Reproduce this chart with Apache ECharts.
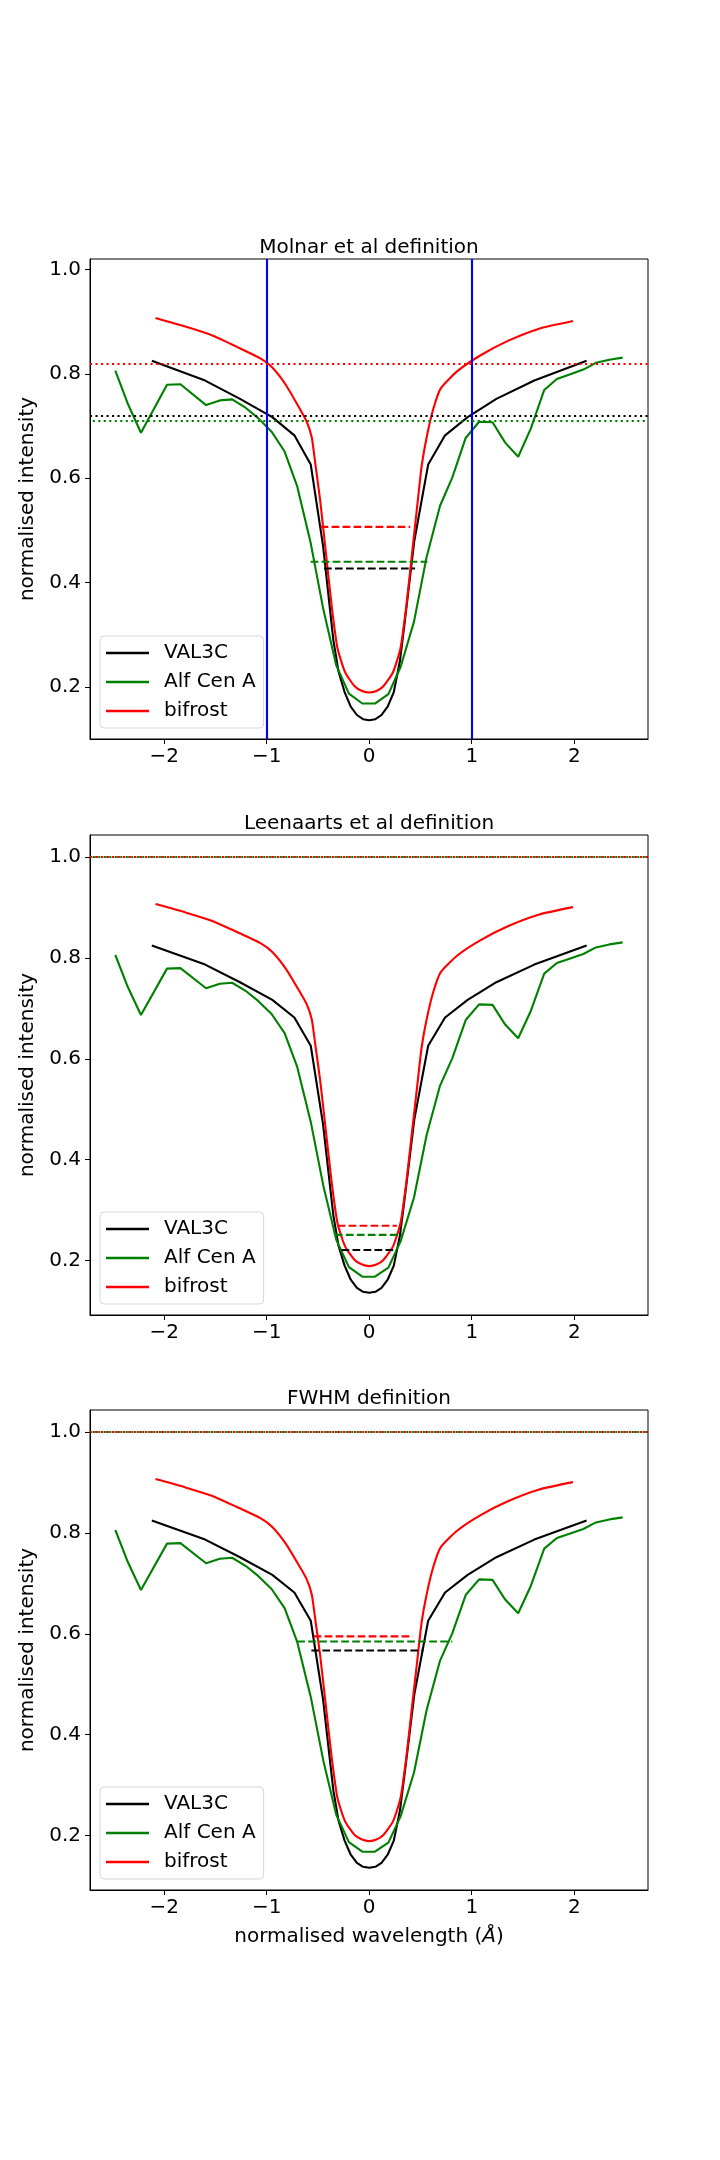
<!DOCTYPE html>
<html>
<head>
<meta charset="utf-8">
<script src="https://cdn.jsdelivr.net/npm/echarts@6/dist/echarts.min.js"></script>
<style>
html, body { margin: 0; padding: 0; background: #fff; }
#chart { width: 720px; height: 2160px; }
</style>
</head>
<body>
<div id="chart"></div>
<script>
// line profiles, normalised wavelength (A) vs normalised intensity
const val3cX = [-2.12,-1.60,-1.26,-0.945,-0.73,-0.57,-0.45,-0.40,-0.35,-0.30,-0.24,-0.18,-0.12,-0.06,0,0.06,0.12,0.18,0.24,0.30,0.35,0.44,0.575,0.74,0.96,1.24,1.61,2.12];
const val3cY = [0.825,0.787,0.752,0.717,0.682,0.626,0.47,0.38,0.29,0.23,0.19,0.162,0.146,0.138,0.136,0.138,0.146,0.162,0.19,0.25,0.33,0.48,0.626,0.682,0.717,0.752,0.787,0.825];

const alfCenX = [-2.476,-2.353,-2.226,-1.972,-1.841,-1.591,-1.457,-1.337,-1.206,-1.083,-0.952,-0.825,-0.702,-0.571,-0.448,-0.321,-0.198,-0.067,0.056,0.187,0.306,0.437,0.560,0.691,0.810,0.941,1.072,1.203,1.326,1.453,1.576,1.707,1.830,1.961,2.088,2.211,2.342,2.472];
const alfCenY = [0.806,0.742,0.687,0.779,0.780,0.740,0.749,0.751,0.735,0.715,0.689,0.651,0.584,0.476,0.349,0.241,0.187,0.168,0.168,0.186,0.238,0.325,0.449,0.547,0.601,0.677,0.708,0.707,0.668,0.641,0.695,0.769,0.790,0.799,0.808,0.821,0.827,0.831];

const bifrostX = [-2.084,-1.785,-1.524,-1.262,-1.057,-0.945,-0.814,-0.683,-0.609,-0.560,-0.523,-0.478,-0.422,-0.366,-0.310,-0.235,-0.142,-0.07,0,0.07,0.138,0.232,0.306,0.362,0.418,0.474,0.512,0.560,0.624,0.698,0.866,1.091,1.352,1.651,1.987];
const bifrostY = [0.907,0.890,0.873,0.849,0.829,0.812,0.779,0.735,0.708,0.678,0.624,0.557,0.456,0.355,0.275,0.228,0.201,0.192,0.189,0.192,0.201,0.228,0.275,0.355,0.456,0.557,0.624,0.678,0.732,0.772,0.806,0.836,0.863,0.886,0.901];

const titles = ['Molnar et al definition', 'Leenaarts et al definition', 'FWHM definition'];
const xTicks = [-2, -1, 0, 1, 2];
const yTicks = [0.2, 0.4, 0.6, 0.8, 1.0];

// per panel, order: VAL3C, Alf Cen A, bifrost
const refLevels = [[0.7186, 0.710, 0.824], [1, 1, 1], [1, 1, 1]];
const widthLevels = [[0.4267, 0.4397, 0.5065], [0.221, 0.251, 0.269], [0.567, 0.585, 0.595]];
const widthStart = [[-0.441, -0.571, -0.474], [-0.270, -0.335, -0.308], [-0.564, -0.702, -0.542]];
const widthEnd = [[0.448, 0.568, 0.400], [0.271, 0.315, 0.270], [0.530, 0.810, 0.426]];
const molnarLimits = [-1, 1];

const xRange = [-2.723, 2.719];
const yRanges = [[0.1, 1.02], [0.092, 1.044], [0.092, 1.044]];

const names = ['VAL3C', 'Alf Cen A', 'bifrost'];
const colors = ['#000000', '#008000', '#ff0000'];
const profX = [val3cX, alfCenX, bifrostX];
const profY = [val3cY, alfCenY, bifrostY];

const FONT = 'DejaVu Sans';
const gridTops = [259, 835, 1410];
const LW = 2.1;
const dotted = [2.1, 3.4];
const dashed = [7.7, 3.3];

const chart = echarts.init(document.getElementById('chart'));

const grid = [], xAxis = [], yAxis = [], series = [], title = [], legend = [];

gridTops.forEach((top, p) => {
    grid.push({left: 90, top: top, width: 558, height: 480, show: true,
        borderColor: '#000', borderWidth: 1, backgroundColor: '#fff'});

    title.push({text: titles[p], left: 369, top: top - 22, textAlign: 'center', padding: 0,
        textStyle: {fontFamily: FONT, fontSize: 20, fontWeight: 'normal', color: '#000', lineHeight: 22}});

    xAxis.push({
        type: 'value', gridIndex: p, min: xRange[0], max: xRange[1],
        name: p === 2 ? 'normalised wavelength ({it|Å})' : '',
        nameLocation: 'middle', nameGap: 37,
        nameTextStyle: {fontFamily: FONT, fontSize: 20, color: '#000',
            rich: {it: {fontFamily: FONT, fontSize: 20, fontStyle: 'italic', color: '#000'}}},
        axisLine: {show: true, onZero: false, lineStyle: {color: '#000', width: 1}},
        axisTick: {show: true, length: 5, customValues: xTicks, lineStyle: {color: '#000', width: 1}},
        axisLabel: {customValues: xTicks, margin: 8, fontFamily: FONT, fontSize: 20, color: '#000',
            formatter: v => String(v).replace('-', '\u2212')},
        splitLine: {show: false}
    });

    yAxis.push({
        type: 'value', gridIndex: p, min: yRanges[p][0], max: yRanges[p][1],
        name: 'normalised intensity', nameLocation: 'middle', nameGap: 38,
        nameTextStyle: {fontFamily: FONT, fontSize: 20, color: '#000'},
        axisLine: {show: true, onZero: false, lineStyle: {color: '#000', width: 1}},
        axisTick: {show: true, length: 5, customValues: yTicks, lineStyle: {color: '#000', width: 1}},
        axisLabel: {customValues: yTicks, margin: 9, fontFamily: FONT, fontSize: 20, color: '#000',
            formatter: v => v.toFixed(1)},
        splitLine: {show: false}
    });

    legend.push({
        data: names, orient: 'vertical', left: 100, top: top + 377,
        icon: 'rect', itemWidth: 43, itemHeight: 2.5, itemGap: 9, padding: [7, 8, 7, 6],
        backgroundColor: '#fff', borderColor: '#d6d6d6', borderWidth: 1, borderRadius: 4,
        formatter: n => '{t|' + n + '}',
        textStyle: {fontFamily: FONT, fontSize: 20, color: '#000', lineHeight: 20,
            rich: {t: {fontFamily: FONT, fontSize: 20, color: '#000', lineHeight: 20, padding: [0, 0, 0, 10]}}}
    });

    for (let k = 0; k < 3; k++) {
        const ml = [{yAxis: refLevels[p][k]}];
        if (p === 0 && k === 0) {
            molnarLimits.forEach(v => ml.push({xAxis: v,
                lineStyle: {color: '#0000ff', type: 'solid', width: LW, dashOffset: 0}}));
        }
        series.push({
            name: names[k], type: 'line', xAxisIndex: p, yAxisIndex: p,
            data: profX[k].map((x, i) => [x, profY[k][i]]),
            symbol: 'none',
            smooth: k === 2 ? 0.2 : false,
            lineStyle: {color: colors[k], width: LW},
            itemStyle: {color: colors[k]},
            z: 2 + k,
            markLine: {
                silent: true, symbol: ['none', 'none'], label: {show: false},
                lineStyle: {color: colors[k], type: dotted, width: LW, dashOffset: k === 1 ? 2.75 : 0},
                data: ml
            }
        });
    }
    for (let k = 0; k < 3; k++) {
        series.push({
            name: names[k] + ' width', type: 'line', xAxisIndex: p, yAxisIndex: p,
            data: [[widthStart[p][k], widthLevels[p][k]], [widthEnd[p][k], widthLevels[p][k]]],
            symbol: 'none', z: 6,
            lineStyle: {color: colors[k], width: LW, type: dashed}
        });
    }
});

chart.setOption({
    backgroundColor: '#fff',
    animation: false,
    textStyle: {fontFamily: FONT},
    title: title,
    legend: legend,
    grid: grid,
    xAxis: xAxis,
    yAxis: yAxis,
    series: series
});
</script>
</body>
</html>
